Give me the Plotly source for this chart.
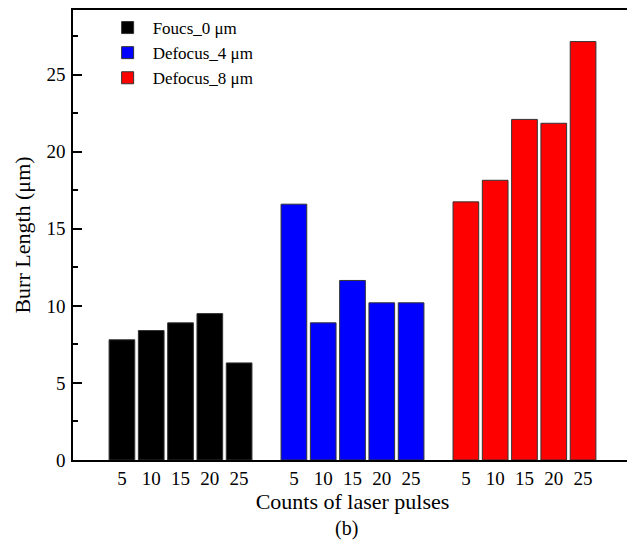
import plotly.graph_objects as go

series_names = ["Foucs_0 μm", "Defocus_4 μm", "Defocus_8 μm"]
pulse_labels = ["5", "10", "15", "20", "25"]
focus0 = [7.8, 8.4, 8.9, 9.5, 6.3]
defocus4 = [16.6, 8.9, 11.65, 10.2, 10.2]
defocus8 = [16.75, 18.15, 22.1, 21.85, 27.15]
colors = ["#000000", "#0000FF", "#FF0000"]

group_gap = 5.87
all_vals = [focus0, defocus4, defocus8]

fig = go.Figure()
tickvals, ticktext = [], []
for g, (name, vals, col) in enumerate(zip(series_names, all_vals, colors)):
    xs = [g * group_gap + i for i in range(len(vals))]
    tickvals += xs
    ticktext += pulse_labels
    fig.add_trace(go.Bar(
        x=xs, y=vals, name=name, width=0.877,
        marker=dict(color=col, line=dict(color="#333333", width=1)),
    ))

font = "Liberation Serif, Times New Roman, serif"
fig.update_layout(
    width=627, height=539,
    margin=dict(l=65, r=3, t=2, b=87, autoexpand=False),
    paper_bgcolor="white", plot_bgcolor="white",
    barmode="overlay", showlegend=True,
    font=dict(family=font, size=17, color="#000"),
    legend=dict(x=0.053, y=1.0, xanchor="left", yanchor="top",
                bgcolor="rgba(0,0,0,0)", font=dict(size=17, family=font),
                tracegroupgap=0, itemwidth=40),
    xaxis=dict(range=[-1.67, 2 * group_gap + 4 + 1.67],
               tickvals=tickvals, ticktext=ticktext,
               showgrid=False, zeroline=False, automargin=False,
               showline=True, linecolor="#000", linewidth=1.5, mirror=True,
               ticks="", tickfont=dict(size=19),
               title=dict(text="Counts of laser pulses", font=dict(size=22), standoff=2)),
    yaxis=dict(range=[0, 29.2], tickvals=[0, 5, 10, 15, 20, 25],
               showgrid=False, zeroline=False, automargin=False,
               showline=True, linecolor="#000", linewidth=1.5, mirror=True,
               ticks="inside", ticklen=9, tickwidth=1.5, tickcolor="#000",
               minor=dict(tickvals=[2.5, 7.5, 12.5, 17.5, 22.5, 27.5],
                          ticks="inside", ticklen=5, tickwidth=1.5, tickcolor="#000"),
               tickfont=dict(size=19), ticklabelstandoff=2,
               title=dict(text="Burr Length (μm)", font=dict(size=22), standoff=10)),
    annotations=[dict(text="(b)", xref="paper", yref="paper", x=0.49, y=-0.152,
                      xanchor="center", yanchor="middle", showarrow=False,
                      font=dict(size=20, family=font))],
)

fig.write_html("out.html")
